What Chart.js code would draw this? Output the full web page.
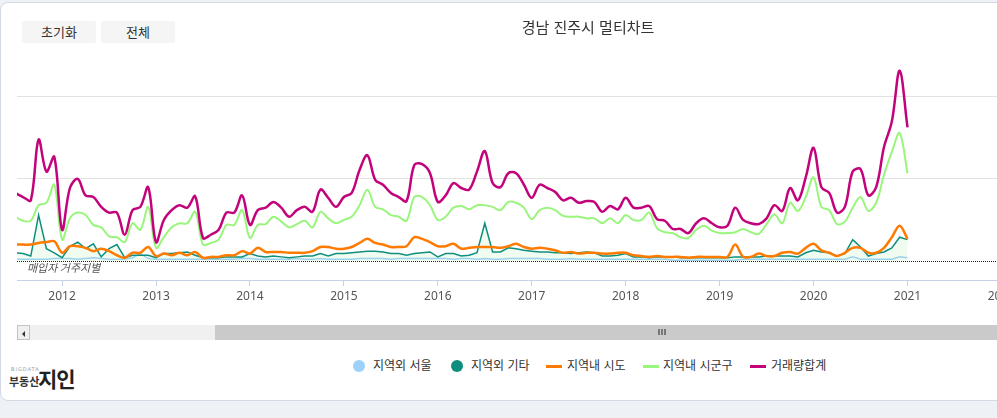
<!DOCTYPE html>
<html lang="ko">
<head>
<meta charset="utf-8">
<script src="https://cdn.jsdelivr.net/npm/chart.js@4.4.1/dist/chart.umd.min.js"></script>
<style>
  html, body { margin: 0; padding: 0; }
  body { width: 997px; height: 418px; overflow: hidden; position: relative; background: #eef1f6;
         font-family: "Noto Sans CJK KR", "Noto Sans", sans-serif; color: #333; }
  .card { position: absolute; left: 0; top: 2px; width: 1060px; height: 399px; background: #fff;
          border: 1px solid #d3dae6; border-radius: 8px; box-sizing: border-box; }
  #wrap { position: absolute; left: 0; top: 0; width: 1040px; height: 310px; }
  .title { position: absolute; left: 488px; top: 16px; width: 200px; text-align: center; font-size: 15px; color: #333; }
  .btn { position: absolute; top: 21px; width: 74px; height: 22px; line-height: 22px; background: #f5f5f5;
         border-radius: 2px; font-size: 13px; text-align: center; color: #333; }
  .sb { position: absolute; top: 325px; height: 15px; }
  .legend-item { position: absolute; top: 357px; font-size: 12px; line-height: 16px; color: #333; white-space: nowrap; }
  .dot { position: absolute; width: 12px; height: 12px; border-radius: 50%; top: 360px; }
  .dash { position: absolute; height: 3px; width: 16px; top: 365px; }
</style>
</head>
<body>
<div class="card"></div>
<div id="wrap"><canvas id="chart"></canvas></div>
<div class="title">경남 진주시 멀티차트</div>
<div class="btn" style="left:22px">초기화</div>
<div class="btn" style="left:101px">전체</div>

<!-- 스크롤바 -->
<div class="sb" style="left:17px;width:13px;background:#f0f0f0;border:1px solid #c3c3c3;box-sizing:border-box"></div>
<div class="sb" style="left:22px;top:331px;width:0;height:0;border-top:3px solid transparent;border-bottom:3px solid transparent;border-right:3px solid #333"></div>
<div class="sb" style="left:30px;width:185px;background:#f0f0f0"></div>
<div class="sb" style="left:215px;width:800px;background:#cacaca"></div>
<div class="sb" style="left:658px;top:329px;height:6px;width:2px;background:#777"></div>
<div class="sb" style="left:661px;top:329px;height:6px;width:2px;background:#777"></div>
<div class="sb" style="left:664px;top:329px;height:6px;width:2px;background:#777"></div>

<!-- 로고 -->
<div style="position:absolute;left:11px;top:366px;font-size:5px;letter-spacing:1px;color:#999;font-family:'DejaVu Sans'">BIGDATA</div>
<div style="position:absolute;left:9px;top:373px;font-size:11px;font-weight:bold;color:#333">부동산</div>
<div style="position:absolute;left:38px;top:363px;font-size:21px;font-weight:bold;color:#222;letter-spacing:-1px">지인</div>

<div id="legend"></div>

<script>
// 2011년 7월부터 월별
const startYear = 2011, startMonth = 7;

const seriesNames = ['지역외 서울', '지역외 기타', '지역내 시도', '지역내 시군구', '거래량합계'];
const seriesColors = ['#9dd0fb', '#0e8f7e', '#ff7a00', '#99f57c', '#c2037c'];

const seoul = [
  2, 2, 2, 2, 2, 3,
  3, 3, 2, 3, 4, 3, 2, 2, 2, 4, 9, 3,
  2, 2, 2, 2, 2, 2, 2, 2, 2, 2, 2, 3,
  3, 2, 2, 2, 2, 2, 3, 2, 2, 3, 2, 2,
  2, 2, 3, 3, 3, 3, 2, 3, 3, 3, 3, 3,
  3, 3, 2, 3, 3, 2, 3, 2, 2, 3, 3, 3,
  3, 3, 2, 2, 2, 3, 2, 2, 2, 2, 2, 2,
  2, 2, 2, 2, 2, 2, 1, 1, 1, 1, 1, 1,
  1, 1, 1, 2, 2, 2, 2, 2, 2, 2, 2, 2,
  2, 2, 2, 2, 2, 5, 2, 2, 2, 2, 2, 5,
  4
];
const otherRegion = [
  10, 9, 6, 56, 15, 10,
  4, 18, 23, 15, 21, 5, 15, 20, 4, 7, 7, 7,
  4, 9, 9, 10, 11, 7, 4, 4, 4, 5, 5, 5,
  9, 6, 5, 6, 5, 4, 5, 6, 6, 9, 6, 9,
  9, 10, 11, 12, 12, 11, 9, 9, 7, 9, 10, 11,
  5, 9, 9, 6, 7, 10, 46, 11, 11, 16, 15, 13,
  12, 11, 11, 10, 10, 9, 10, 11, 10, 6, 6, 7,
  9, 5, 5, 4, 5, 5, 5, 4, 4, 4, 4, 4,
  4, 4, 5, 5, 5, 5, 6, 6, 6, 6, 5, 10,
  13, 11, 10, 6, 9, 26, 17, 6, 9, 11, 16, 29,
  26
];
const sido = [
  20, 20, 20, 22, 23, 24,
  10, 18, 18, 16, 12, 15, 12, 7, 4, 10, 10, 17,
  6, 9, 7, 10, 7, 11, 4, 5, 5, 7, 7, 12,
  9, 16, 11, 11, 11, 10, 10, 10, 12, 17, 17, 15,
  15, 17, 22, 27, 22, 20, 17, 17, 18, 29, 27, 23,
  18, 18, 21, 15, 16, 17, 17, 17, 16, 18, 21, 17,
  15, 16, 15, 13, 10, 11, 9, 10, 10, 9, 9, 10,
  10, 7, 6, 5, 6, 5, 5, 5, 4, 5, 5, 5,
  5, 5, 20, 5, 5, 9, 6, 6, 10, 11, 9, 16,
  21, 13, 10, 6, 10, 16, 16, 10, 10, 16, 29, 43,
  27
];
const sigungu = [
  54, 49, 49, 68, 71, 93,
  26, 52, 59, 56, 44, 41, 30, 29, 23, 46, 38, 66,
  16, 29, 41, 46, 46, 60, 20, 22, 26, 44, 44, 62,
  28, 44, 45, 54, 48, 41, 45, 49, 41, 60, 52, 46,
  50, 54, 68, 87, 66, 63, 56, 54, 49, 78, 78, 68,
  50, 54, 65, 67, 63, 68, 68, 66, 62, 72, 71, 65,
  51, 62, 65, 62, 55, 54, 54, 52, 52, 46, 52, 46,
  56, 50, 50, 59, 40, 35, 34, 29, 28, 38, 43, 37,
  34, 34, 35, 39, 35, 33, 45, 57, 46, 71, 61, 78,
  102, 66, 62, 45, 48, 65, 78, 61, 71, 105, 133, 156,
  107
];
const total = [
  83, 78, 74, 148, 109, 127,
  38, 89, 100, 80, 78, 66, 59, 59, 32, 62, 66, 90,
  23, 50, 62, 68, 65, 79, 28, 32, 38, 59, 59, 80,
  44, 62, 65, 72, 65, 54, 62, 66, 60, 87, 77, 66,
  78, 83, 111, 129, 99, 93, 83, 78, 73, 117, 118, 107,
  72, 80, 95, 89, 87, 109, 134, 95, 90, 107, 107, 93,
  77, 93, 89, 84, 74, 77, 71, 73, 72, 60, 67, 63,
  77, 65, 65, 67, 51, 49, 39, 39, 34, 46, 52, 46,
  41, 43, 65, 50, 46, 45, 52, 68, 61, 89, 74, 102,
  138, 90, 83, 59, 66, 109, 112, 80, 90, 139, 170, 232,
  163
];

function toPoints(values) {
  return values.map((v, i) => ({ x: startYear + (startMonth - 1 + i) / 12, y: v }));
}

// 범례
const legendPos = [
  { mark: 359, text: 373, type: 'dot' },
  { mark: 457, text: 471, type: 'dot' },
  { mark: 546, text: 567, type: 'dash' },
  { mark: 643, text: 663, type: 'dash' },
  { mark: 750, text: 771, type: 'dash' }
];
document.getElementById('legend').innerHTML = seriesNames.map((name, i) => {
  const p = legendPos[i];
  const mark = p.type === 'dot'
    ? `<div class="dot" style="left:${p.mark - 6}px;background:${seriesColors[i]}"></div>`
    : `<div class="dash" style="left:${p.mark}px;background:${seriesColors[i]}"></div>`;
  return mark + `<div class="legend-item" style="left:${p.text}px">${name}</div>`;
}).join('');

const zeroLine = {
  id: 'zeroLine',
  afterDatasetsDraw(chart) {
    const { ctx, chartArea, scales: { y } } = chart;
    const py = Math.round(y.getPixelForValue(0)) + 0.5;
    ctx.save();
    ctx.strokeStyle = '#222';
    ctx.lineWidth = 1;
    ctx.setLineDash([1, 1]);
    ctx.beginPath();
    ctx.moveTo(chartArea.left, py);
    ctx.lineTo(chartArea.right, py);
    ctx.stroke();
    ctx.setLineDash([]);
    ctx.font = 'italic 11px "Noto Sans CJK KR"';
    ctx.fillStyle = '#555';
    ctx.textBaseline = 'top';
    ctx.fillText('매입자 거주지별', chartArea.left + 10, py + 1);
    ctx.restore();
  }
};

const allSeries = [seoul, otherRegion, sido, sigungu, total];
const widths = [1.5, 1.5, 2.5, 2, 2.5];
const tensions = [0, 0, 0.35, 0.35, 0.35];
const orders = [5, 4, 3, 2, 1];

new Chart(document.getElementById('chart'), {
  type: 'line',
  data: {
    datasets: allSeries.map((vals, i) => ({
      label: seriesNames[i],
      data: toPoints(vals),
      borderColor: seriesColors[i],
      backgroundColor: i === 1 ? 'rgba(140,230,140,0.12)' : seriesColors[i],
      fill: i === 1 ? 'origin' : false,
      borderWidth: widths[i],
      tension: tensions[i],
      pointRadius: 0,
      order: orders[i]
    }))
  },
  options: {
    responsive: true,
    maintainAspectRatio: false,
    animation: false,
    layout: { padding: { left: 17, top: 45, right: 1, bottom: 0 } },
    plugins: { legend: { display: false }, tooltip: { enabled: false } },
    scales: {
      x: {
        type: 'linear',
        min: 2011.52,
        max: 2022.4,
        ticks: {
          stepSize: 1, includeBounds: false, autoSkip: false, maxRotation: 0,
          color: '#555', padding: 3, font: { size: 12, family: '"Noto Sans"' },
          callback: v => String(v)
        },
        grid: { drawOnChartArea: false, drawTicks: true, tickLength: 6, color: '#c6d2e5' },
        border: { color: '#c6d2e5' },
        afterFit: s => { s.height = 30; }
      },
      y: {
        min: -23.2,
        max: 263.4,
        ticks: { display: false, stepSize: 100, includeBounds: false },
        grid: {
          drawTicks: false,
          color: c => (c.tick && c.tick.value === 0) ? 'rgba(0,0,0,0)' : '#e2e2e2'
        },
        border: { display: false },
        afterFit: s => { s.width = 0; }
      }
    }
  },
  plugins: [zeroLine]
});
</script>
</body>
</html>
